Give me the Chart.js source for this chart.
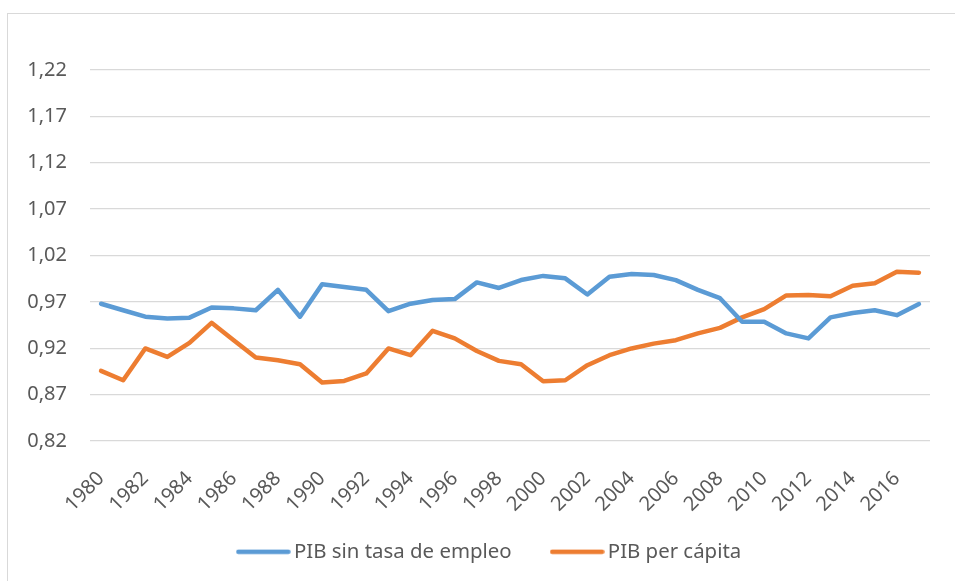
<!DOCTYPE html>
<html>
<head>
<meta charset="utf-8">
<script src="https://cdn.jsdelivr.net/npm/chart.js@4"></script>
<style>
  html, body { margin: 0; padding: 0; background: #fff; overflow: hidden; width: 955px; height: 581px; }
  #frame { position: absolute; left: 7px; top: 13px; width: 1000px; height: 600px;
           border-left: 1px solid #d9d9d9; border-top: 1px solid #d9d9d9; box-sizing: border-box; }
  #wrap { position: absolute; left: 8px; top: 13px; width: 966px; height: 568px; }
</style>
</head>
<body>
<div id="frame"></div>
<div id="wrap"><canvas id="c"></canvas></div>
<script>
const years = [1980,1981,1982,1983,1984,1985,1986,1987,1988,1989,
               1990,1991,1992,1993,1994,1995,1996,1997,1998,1999,
               2000,2001,2002,2003,2004,2005,2006,2007,2008,2009,
               2010,2011,2012,2013,2014,2015,2016,2017];
const pibSinTasa = [0.968,0.961,0.954,0.952,0.953,0.964,0.963,0.961,0.983,0.954,
                    0.989,0.986,0.983,0.960,0.968,0.972,0.973,0.991,0.985,0.9935,
                    0.998,0.9954,0.978,0.997,1.000,0.999,0.9935,0.983,0.974,0.9485,
                    0.9485,0.936,0.9306,0.9533,0.958,0.961,0.9557,0.9676];
const pibPerCapita = [0.8956,0.8855,0.9198,0.9107,0.9258,0.9474,0.9287,0.910,0.907,0.9028,
                      0.883,0.8848,0.8928,0.9198,0.9125,0.9388,0.9306,0.917,0.9064,0.9028,
                      0.8845,0.8855,0.9017,0.9125,0.9198,0.925,0.9287,0.936,0.942,0.9533,
                      0.9622,0.977,0.9773,0.976,0.9874,0.990,1.0025,1.0014];
const seriesNames = ['PIB sin tasa de empleo', 'PIB per cápita'];
const seriesColors = ['#5B9BD5', '#ED7D31'];
const yMin = 0.82, yMax = 1.22, yStep = 0.05;

const FONT = "'Noto Sans', 'Open Sans', sans-serif";
const TXT = '#595959';
const GRID = '#d9d9d9';

function legendLine(color) {
  const cv = document.createElement('canvas');
  cv.width = 55; cv.height = 6;
  const g = cv.getContext('2d');
  g.strokeStyle = color; g.lineWidth = 4.5; g.lineCap = 'round';
  g.beginPath(); g.moveTo(2.5, 3); g.lineTo(52.5, 3); g.stroke();
  return cv;
}
const legendImgs = seriesColors.map(legendLine);

const layoutTweaks = {
  id: 'layoutTweaks',
  afterLayout(chart) {
    if (chart.legend) { chart.legend.left += 23; chart.legend.right += 23; }
    if (chart.scales.x) { chart.scales.x.bottom = chart.height; }
  }
};

new Chart(document.getElementById('c'), {
  type: 'line',
  data: {
    labels: years,
    datasets: [
      { label: seriesNames[0], data: pibSinTasa, borderColor: seriesColors[0], backgroundColor: seriesColors[0],
        borderWidth: 4.5, pointRadius: 0, tension: 0, fill: false, borderCapStyle: 'round', borderJoinStyle: 'round' },
      { label: seriesNames[1], data: pibPerCapita, borderColor: seriesColors[1], backgroundColor: seriesColors[1],
        borderWidth: 4.5, pointRadius: 0, tension: 0, fill: false, borderCapStyle: 'round', borderJoinStyle: 'round' }
    ]
  },
  plugins: [layoutTweaks],
  options: {
    responsive: true,
    maintainAspectRatio: false,
    animation: false,
    layout: { padding: { top: 57, right: 44, bottom: 9, left: 0 } },
    plugins: {
      tooltip: { enabled: false },
      legend: {
        position: 'bottom',
        labels: {
          font: { family: FONT, size: 20.4 },
          color: TXT,
          usePointStyle: true,
          pointStyleWidth: 41,
          padding: 45,
          generateLabels(chart) {
            const items = Chart.defaults.plugins.legend.labels.generateLabels(chart);
            items.forEach((it, i) => { it.pointStyle = legendImgs[i]; });
            return items;
          }
        }
      }
    },
    scales: {
      x: {
        offset: true,
        grid: { display: false, drawTicks: false },
        border: { display: false },
        ticks: {
          autoSkip: false,
          maxRotation: 45,
          minRotation: 45,
          padding: 26,
          color: TXT,
          font: { family: FONT, size: 20 },
          callback: function(v, i) { return i % 2 === 0 ? String(years[i]) : ''; }
        },
        afterFit: function(s) { s.height = 55.6; }
      },
      y: {
        min: yMin,
        max: yMax,
        grid: { color: GRID, lineWidth: 1.3, drawTicks: false },
        border: { display: false },
        ticks: {
          stepSize: yStep,
          padding: 23,
          color: TXT,
          font: { family: FONT, size: 20 },
          callback: function(v) { return v.toFixed(2).replace('.', ','); }
        },
        afterFit: function(s) { s.width = 82; }
      }
    }
  }
});
</script>
</body>
</html>
